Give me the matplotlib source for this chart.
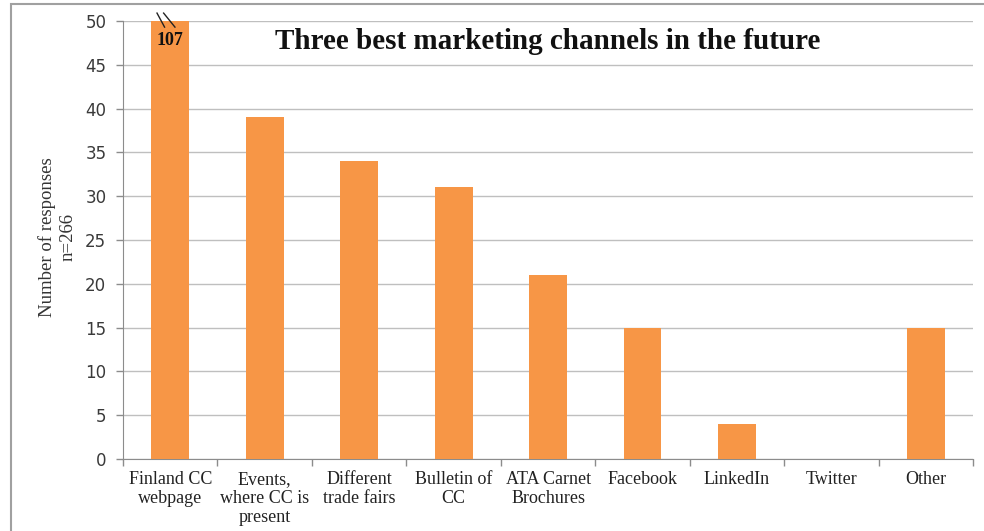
import numpy as np
import matplotlib.pyplot as plt
from matplotlib.patches import Rectangle

# ----------------------------
# Data
# ----------------------------
channels = ['Finland CC\nwebpage', 'Events,\nwhere CC is\npresent', 'Different\ntrade fairs',
            'Bulletin of\nCC', 'ATA Carnet\nBrochures', 'Facebook', 'LinkedIn', 'Twitter', 'Other']
responses = [107, 39, 34, 31, 21, 15, 4, 0, 15]
y_max = 50
y_ticks = np.arange(0, 51, 5)

serif = ['Liberation Serif', 'DejaVu Serif']
bar_color = '#F79646'
grid_color = '#BFBFBF'
axis_color = '#8C8C8C'

fig = plt.figure(figsize=(9.84, 5.31), dpi=100)
ax = fig.add_axes([0.125, 0.1356, 0.864, 0.8249])

x = np.arange(len(channels))
shown = np.minimum(responses, y_max)   # first bar is cut at the axis top
ax.bar(x, shown, width=0.4, color=bar_color, zorder=3)

ax.set_xlim(-0.5, len(channels) - 0.5)
ax.set_ylim(0, y_max)
ax.set_yticks(y_ticks)
ax.set_yticklabels([str(t) for t in y_ticks], fontsize=12, color='#3a3a3a')
ax.set_xticks(x)
ax.set_xticklabels(channels, fontsize=13, family=serif, color='#222222', linespacing=1.15)
ax.tick_params(axis='x', length=0, pad=9)
ax.tick_params(axis='y', length=5, color=axis_color, width=1, pad=7)

# category boundary ticks on the x axis
ax.set_xticks(np.arange(-0.5, len(channels)), minor=True)
ax.tick_params(axis='x', which='minor', length=5, color=axis_color, width=1)

ax.yaxis.grid(True, color=grid_color, linewidth=1, zorder=0)
ax.set_axisbelow(True)
for side in ['top', 'right']:
    ax.spines[side].set_visible(False)
ax.spines['left'].set_color(axis_color)
ax.spines['bottom'].set_color(axis_color)

# break mark and real value on the cut bar
for dx0, dx1 in [(-0.14, -0.06), (-0.07, 0.05)]:
    ax.plot([dx0, dx1], [50.9, 49.3], color='#222222', lw=1.0, clip_on=False, zorder=5)
ax.text(0, 47.8, str(responses[0]), ha='center', va='center', fontsize=13,
        fontweight='bold', family=serif, color='#111111', zorder=5)

ax.text(0.5, 0.952, 'Three best marketing channels in the future', transform=ax.transAxes,
        ha='center', va='center', fontsize=21, fontweight='bold', family=serif, color='#111111')

fig.text(0.058, 0.554, 'Number of responses\nn=266', rotation=90, ha='center', va='center',
         fontsize=13.5, family=serif, color='#333333', linespacing=1.3)

# outer frame of the chart area
fig.patches.append(Rectangle((0.011, -0.1), 1.2, 1.092, transform=fig.transFigure,
                             fill=False, edgecolor='#A0A0A0', linewidth=1.5))

fig.savefig('out.png', dpi=100)
